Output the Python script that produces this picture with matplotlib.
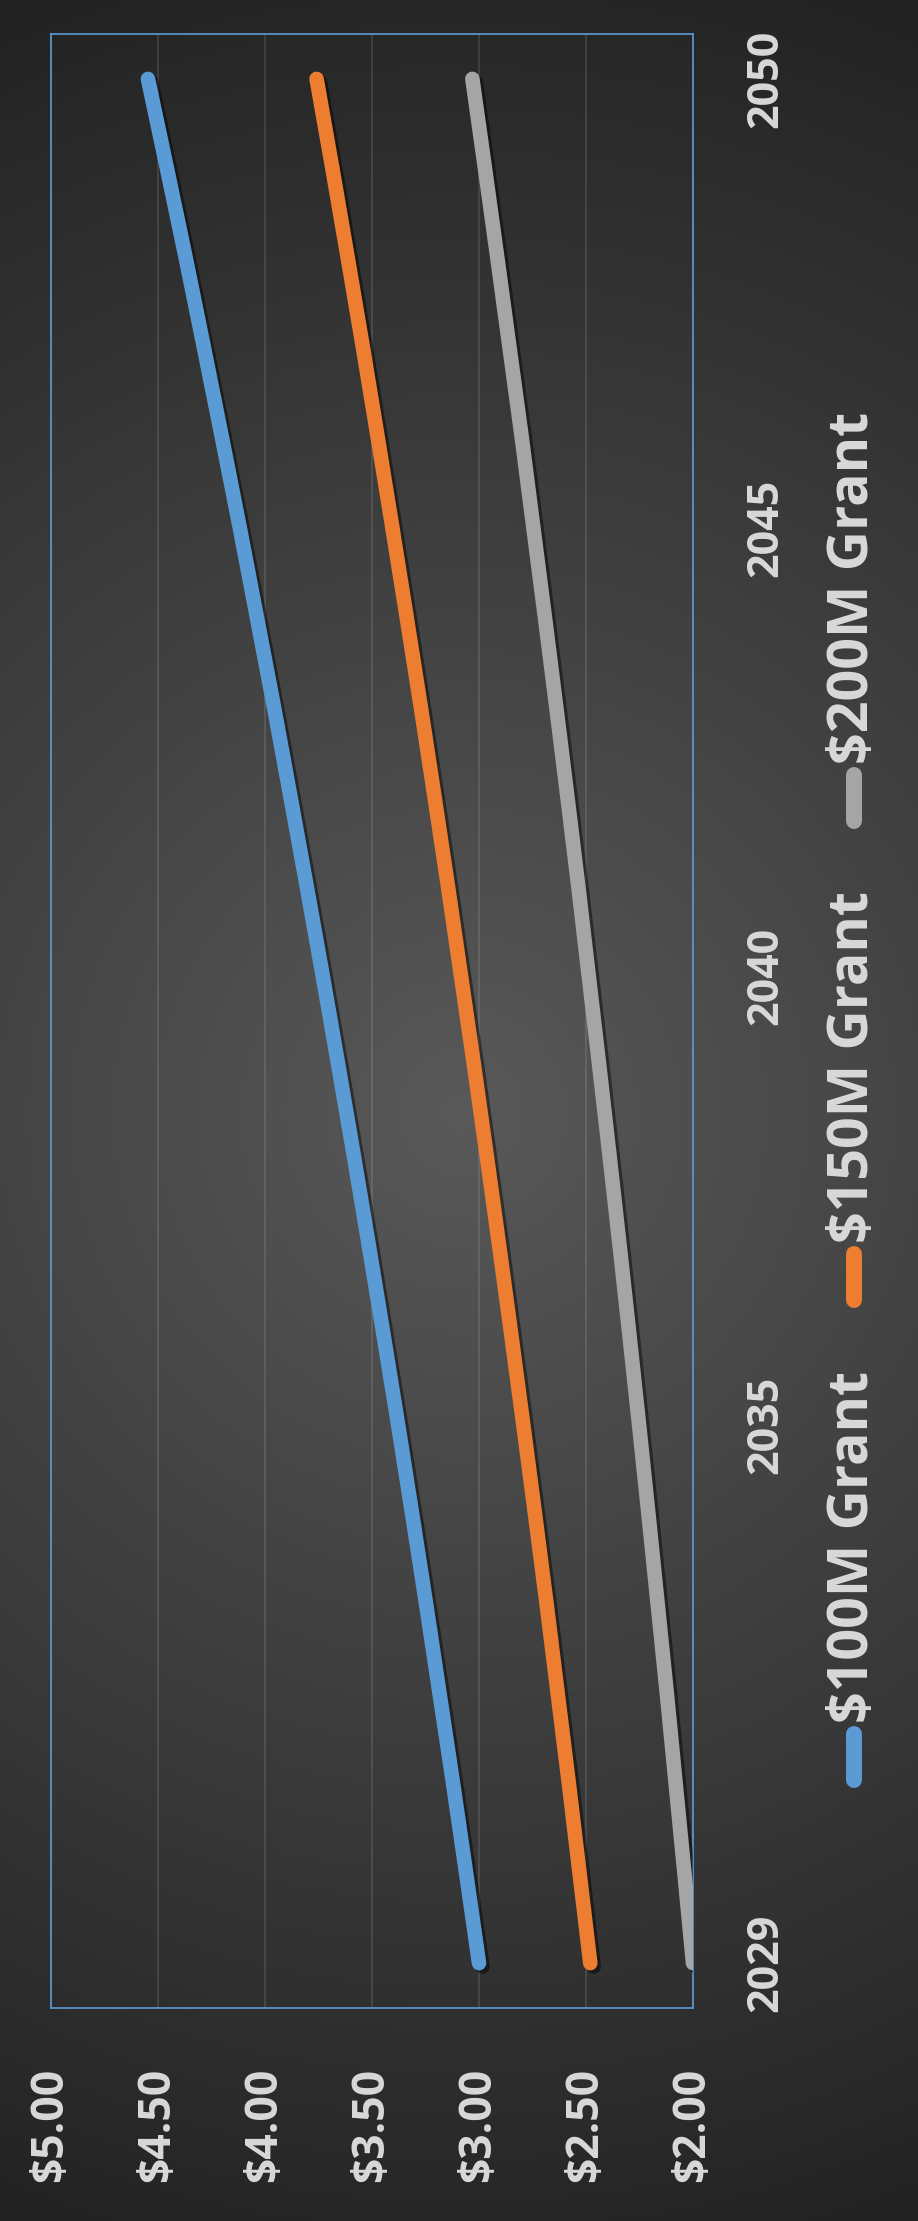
import numpy as np
import matplotlib
matplotlib.use('Agg')
import matplotlib.pyplot as plt
import matplotlib.patheffects as pe
from matplotlib.lines import Line2D

# ── Data ─────────────────────────────────────────────────────────────────────
years = list(range(2029, 2051))
grant_100m = [3.000, 3.060, 3.121, 3.184, 3.247, 3.312, 3.378, 3.446, 3.515, 3.585, 3.657,
              3.730, 3.805, 3.881, 3.958, 4.038, 4.118, 4.201, 4.285, 4.370, 4.458, 4.547]
grant_150m = [2.480, 2.530, 2.580, 2.632, 2.684, 2.738, 2.793, 2.849, 2.906, 2.964, 3.023,
              3.084, 3.145, 3.208, 3.272, 3.338, 3.405, 3.473, 3.542, 3.613, 3.685, 3.759]
grant_200m = [2.000, 2.040, 2.081, 2.122, 2.165, 2.208, 2.252, 2.297, 2.343, 2.390, 2.438,
              2.487, 2.536, 2.587, 2.639, 2.692, 2.746, 2.800, 2.857, 2.914, 2.972, 3.031]

series_names = ['$100M Grant', '$150M Grant', '$200M Grant']
series_colors = ['#5b9bd5', '#ed7d31', '#a5a5a5']

value_ticks = [2.0, 2.5, 3.0, 3.5, 4.0, 4.5, 5.0]
value_labels = ['$2.00', '$2.50', '$3.00', '$3.50', '$4.00', '$4.50', '$5.00']
year_ticks = [2029, 2035, 2040, 2045, 2050]

TXT = '#d9d9d9'
plt.rcParams['font.family'] = ['Open Sans', 'DejaVu Sans']
plt.rcParams['font.weight'] = 'bold'

W, H = 918, 2221
fig = plt.figure(figsize=(W / 100, H / 100), dpi=100)

# ── Radial gradient background ──────────────────────────────────────────────
bg = fig.add_axes([0, 0, 1, 1], zorder=-10)
gw, gh = 230, 556
yy, xx = np.mgrid[0:gh, 0:gw]
r = np.hypot((xx - gw / 2) * W / gw, (yy - gh / 2) * H / gh) / np.hypot(W / 2, H / 2)
inner, outer = 0x59 / 255, 0x22 / 255
shade = (inner + (outer - inner) * r).astype(np.float32)
bg.imshow(np.dstack([shade] * 3), extent=[0, 1, 0, 1], aspect='auto',
          interpolation='bilinear')
bg.axis('off')

# ── Main plot (chart drawn rotated 90°) ──────────────────────────────────────
ax = fig.add_axes([51 / W, 1 - 2008 / H, (693 - 51) / W, (2008 - 34) / H])
ax.set_facecolor('none')

for vals, c in zip([grant_100m, grant_150m, grant_200m], series_colors):
    ax.plot(vals, years, color=c, lw=10.5, solid_capstyle='round',
            solid_joinstyle='round', zorder=3,
            path_effects=[pe.SimpleLineShadow(offset=(2.5, -2.5), alpha=0.45),
                          pe.Normal()])

ax.set_xlim(5, 2)
ax.set_ylim(2028.5, 2050.5)

ax.set_xticks(value_ticks)
ax.set_xticklabels(value_labels, rotation=90)
ax.tick_params(axis='x', length=0, pad=43, labelsize=32, labelcolor=TXT)

ax.yaxis.tick_right()
ax.set_yticks(year_ticks)
ax.set_yticklabels([str(y) for y in year_ticks], rotation=90, va='center')
ax.tick_params(axis='y', length=0, pad=37, labelsize=31, labelcolor=TXT)

ax.grid(axis='x', color='white', alpha=0.13, lw=1.2)
ax.grid(axis='y', visible=False)
for s in ax.spines.values():
    s.set_color('#5b9bd5')
    s.set_linewidth(1.2)

# ── Legend (rotated, drawn by hand) ─────────────────────────────────────────
leg_x = 854 / W
leg_centers = [1757, 1277, 798]
for name, c, yc in zip(series_names, series_colors, leg_centers):
    y0 = 1 - (yc + 23) / H
    y1 = 1 - (yc - 23) / H
    fig.add_artist(Line2D([leg_x, leg_x], [y0, y1], transform=fig.transFigure,
                          color=c, lw=11.5, solid_capstyle='round'))
    fig.text(leg_x, 1 - (yc - 34) / H, name, rotation=90, ha='center',
             va='bottom', fontsize=40, color=TXT, fontweight='bold')

fig.savefig('out.png', dpi=100)
